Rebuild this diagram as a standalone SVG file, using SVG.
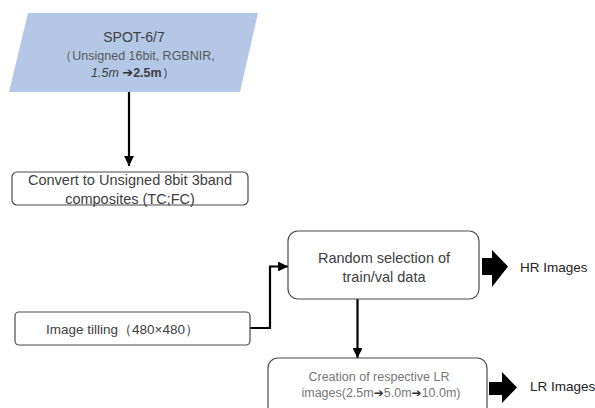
<svg xmlns="http://www.w3.org/2000/svg" width="595" height="408" viewBox="0 0 595 408">
<style>
  text { font-family: "Liberation Sans", Arial, sans-serif; fill: #404040; }
  .box { fill: #ffffff; stroke: #4a4a4a; stroke-width: 1.2; }
  .conn { fill: none; stroke: #000000; stroke-width: 2.2; }
  .blk { fill: #000000; }
  .arr { font-family: "DejaVu Sans", sans-serif; font-weight: bold; }
</style>
<defs>
  <marker id="ah" viewBox="0 0 10 10" refX="10" refY="5" markerWidth="4.5" markerHeight="4.5" orient="auto" markerUnits="strokeWidth">
    <path d="M0,0 L10,5 L0,10 z" fill="#000"/>
  </marker>
</defs>

<g id="connectors">
  <path class="conn" d="M129,92 L129,166" marker-end="url(#ah)"/>
  <path class="conn" d="M250,328 L270,328 L270,266.5 L288,266.5" marker-end="url(#ah)"/>
  <path class="conn" d="M357.5,299 L357.5,358" marker-end="url(#ah)"/>
  <path class="blk" d="M482,258 L492,258 L492,250 L508,266.5 L492,287 L492,275 L482,275 z"/>
  <path class="blk" d="M489,382 L502,382 L502,372 L517,387.5 L502,403 L502,395 L489,395 z"/>
</g>

<g id="spot">
  <polygon points="28,13 258,13 240,92 9,92" fill="#b4c7e7"/>
  <text x="134" y="42" font-size="14" text-anchor="middle">SPOT-6/7</text>
  <text x="137" y="60" font-size="12.5" text-anchor="middle" style="fill:#595959">（Unsigned 16bit, RGBNIR,</text>
  <text x="91" y="77" font-size="12.5"><tspan font-style="italic">1.5m </tspan><tspan class="arr" font-size="13" style="fill:#333">➔</tspan><tspan font-weight="bold" style="fill:#404040">2.5m</tspan><tspan style="fill:#404040">）</tspan></text>
</g>

<g id="convert">
  <rect class="box" x="12" y="172" width="236" height="33" rx="5"/>
  <text x="130" y="185" font-size="14.5" text-anchor="middle">Convert to Unsigned 8bit 3band</text>
  <text x="130" y="204" font-size="14.5" text-anchor="middle">composites (TC;FC)</text>
</g>

<g id="tilling">
  <rect class="box" x="15" y="312" width="235" height="33" rx="4"/>
  <text x="46" y="334" font-size="13.5">Image tilling（480×480）</text>
</g>

<g id="random">
  <rect class="box" x="288" y="231" width="191" height="68" rx="10"/>
  <text x="384" y="263" font-size="14.5" text-anchor="middle">Random selection of</text>
  <text x="384" y="282" font-size="14.5" text-anchor="middle">train/val data</text>
</g>

<g id="hr">
  <text x="520" y="272" font-size="13.5" style="fill:#222">HR Images</text>
</g>

<g id="creation">
  <rect class="box" x="268" y="358" width="219" height="60" rx="10"/>
  <text x="379" y="381" font-size="12.5" text-anchor="middle" style="fill:#777">Creation of respective LR</text>
  <text x="381" y="397" font-size="12.5" text-anchor="middle" style="fill:#777">images(2.5m<tspan class="arr" style="fill:#333" font-size="12">➔</tspan>5.0m<tspan class="arr" style="fill:#333" font-size="12">➔</tspan>10.0m)</text>
</g>

<g id="lr">
  <text x="530" y="391" font-size="13.5" style="fill:#222">LR Images</text>
</g>
</svg>
